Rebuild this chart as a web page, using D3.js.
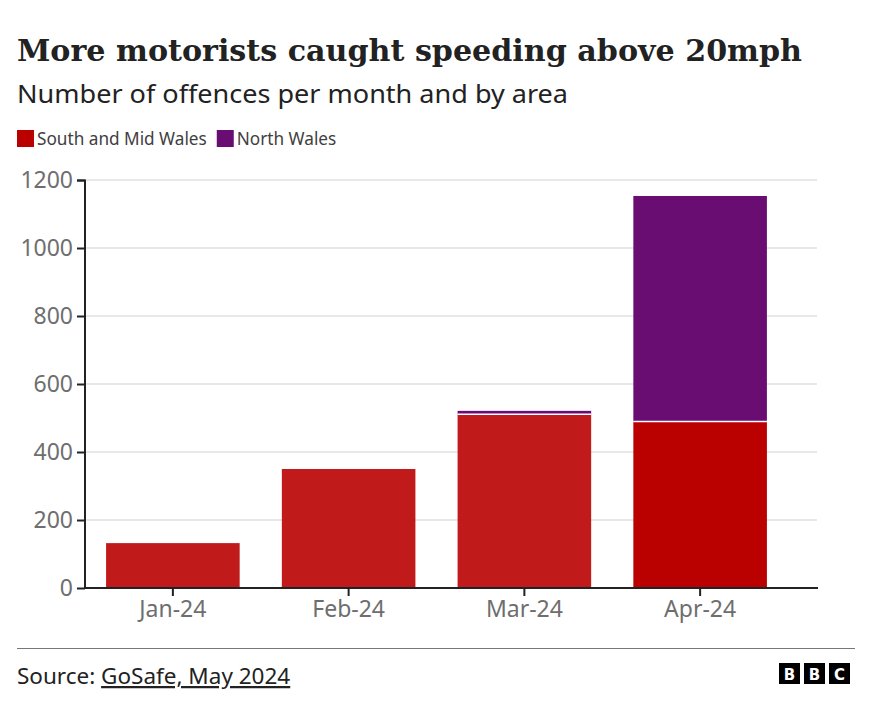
<!DOCTYPE html>
<html><head><meta charset="utf-8">
<script src="https://cdn.jsdelivr.net/npm/d3@7"></script>
<style>
html,body{margin:0;padding:0;background:#fff;}
svg{display:block;}
</style></head>
<body>
<svg id="chart" width="872" height="712"></svg>
<script>
const months = ["Jan-24","Feb-24","Mar-24","Apr-24"];
const southMid = [132, 350, 511, 490];
const north = [0, 0, 10, 663];
const seriesNames = ["South and Mid Wales","North Wales"];
const seriesColors = ["#bb0000","#6a0d73"];
const earlyRed = "#c01a1a";
const yTicks = [0,200,400,600,800,1000,1200];

const svg = d3.select("#chart");
const sans = "'Noto Sans', 'Open Sans', sans-serif";

svg.append("text").attr("x",17).attr("y",61)
  .attr("font-family","'DejaVu Serif', serif").attr("font-weight","bold")
  .attr("font-size",30).attr("fill","#222")
  .attr("textLength",785).attr("lengthAdjust","spacingAndGlyphs")
  .text("More motorists caught speeding above 20mph");
svg.append("text").attr("x",17).attr("y",103)
  .attr("font-family",sans).attr("font-size",25).attr("fill","#222")
  .attr("textLength",551).attr("lengthAdjust","spacingAndGlyphs")
  .text("Number of offences per month and by area");

// legend
const leg = svg.append("g");
let lx = 17;
seriesNames.forEach((n,i)=>{
  leg.append("rect").attr("x",lx).attr("y",130).attr("width",17).attr("height",17).attr("fill",seriesColors[i]);
  const t = leg.append("text").attr("x",lx+20).attr("y",145).attr("font-family",sans).attr("font-size",17.2)
    .attr("fill","#404040").text(n);
  lx += 20 + t.node().getComputedTextLength() + 10;
});

const y = d3.scaleLinear().domain([0,1200]).range([588,180]);
const x = d3.scaleBand().domain(months).range([85,788]).paddingInner(0.24).paddingOuter(0.12);

// gridlines
svg.append("g").selectAll("line").data(yTicks.slice(1)).join("line")
  .attr("x1",85).attr("x2",817).attr("y1",d=>y(d)).attr("y2",d=>y(d))
  .attr("stroke","#e8e8e8").attr("stroke-width",2);

// bars
const stack = months.map((m,i)=>({m, s:southMid[i], n:north[i], i}));
svg.append("g").selectAll("rect").data(stack).join("rect")
  .attr("x",d=>x(d.m)).attr("width",x.bandwidth())
  .attr("y",d=>y(d.s)).attr("height",d=>y(0)-y(d.s))
  .attr("fill",d=>d.i<3?earlyRed:seriesColors[0]);
svg.append("g").selectAll("rect").data(stack.filter(d=>d.n>0)).join("rect")
  .attr("x",d=>x(d.m)).attr("width",x.bandwidth())
  .attr("y",d=>y(d.s+d.n)).attr("height",d=>y(d.s)-y(d.s+d.n))
  .attr("fill",seriesColors[1]);
// separators
svg.append("g").selectAll("line").data(stack.filter(d=>d.n>0)).join("line")
  .attr("x1",d=>x(d.m)).attr("x2",d=>x(d.m)+x.bandwidth())
  .attr("y1",d=>y(d.s)).attr("y2",d=>y(d.s))
  .attr("stroke","#fff").attr("stroke-width",1.5);

// y axis
const yAxis = svg.append("g").attr("transform","translate(85,0)")
  .call(d3.axisLeft(y).tickValues(yTicks).tickFormat(d3.format("d")).tickSize(8).tickPadding(4));
yAxis.select(".domain").attr("stroke","#222").attr("stroke-width",2).attr("d","M-8,180.5H0V588");
yAxis.selectAll(".tick line").attr("stroke","#222").attr("stroke-width",2);
yAxis.selectAll(".tick text").attr("font-family",sans).attr("font-size",23).attr("fill","#6e6e6e");

// x axis
const xAxis = svg.append("g").attr("transform","translate(0,588)")
  .call(d3.axisBottom(x).tickSize(8).tickPadding(5));
xAxis.select(".domain").attr("stroke","#222").attr("stroke-width",2).attr("d","M84,0H818");
xAxis.selectAll(".tick line").attr("stroke","#222").attr("stroke-width",2);
xAxis.selectAll(".tick text").attr("font-family",sans).attr("font-size",23).attr("fill","#6e6e6e");

// footer
svg.append("line").attr("x1",17).attr("x2",855).attr("y1",648.5).attr("y2",648.5)
  .attr("stroke","#777").attr("stroke-width",1);
const src = svg.append("text").attr("x",17).attr("y",684).attr("font-family",sans).attr("font-size",22.5).attr("fill","#222");
src.append("tspan").text("Source: ");
src.append("tspan").attr("text-decoration","underline").text("GoSafe, May 2024");

const bbc = svg.append("g");
["B","B","C"].forEach((c,i)=>{
  const bx = 779 + i*25;
  bbc.append("rect").attr("x",bx).attr("y",663).attr("width",21).attr("height",21).attr("fill","#000");
  bbc.append("text").attr("x",bx+10.5).attr("y",680).attr("text-anchor","middle")
    .attr("font-family","'DejaVu Sans', sans-serif").attr("font-weight","bold").attr("font-size",15)
    .attr("fill","#fff").text(c);
});
</script>
</body></html>
